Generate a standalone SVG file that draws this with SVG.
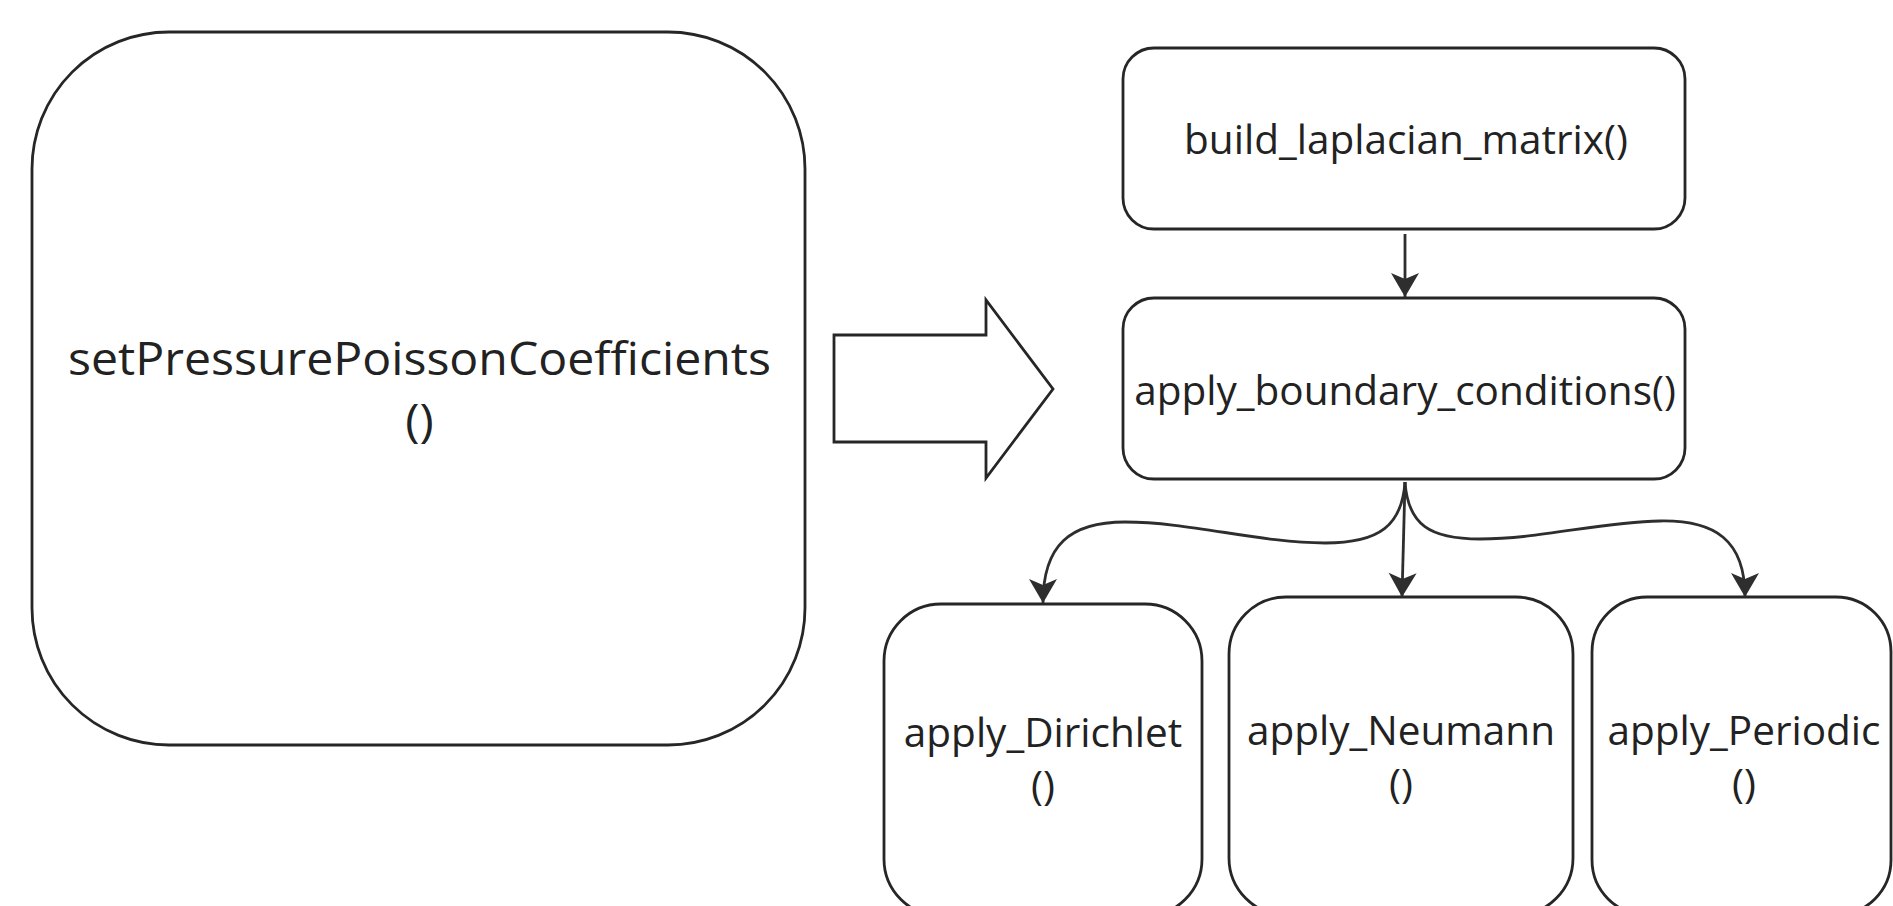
<svg xmlns="http://www.w3.org/2000/svg" width="1893" height="906" viewBox="0 0 1893 906">
  <style>
    .box { fill: #ffffff; stroke: #262626; stroke-width: 2.8; }
    .label { font-family: "Open Sans", "Noto Sans", "Liberation Sans", sans-serif; font-size: 40.5px; fill: #222222; text-anchor: middle; }
    .label.big { font-size: 46px; }
    .edge { fill: none; stroke: #2e2e2e; stroke-width: 2.8; stroke-linecap: butt; }
  </style>
  <defs>
    <marker id="arrowhead" markerUnits="userSpaceOnUse" markerWidth="32" markerHeight="32" viewBox="-27 -16 29 32" refX="0" refY="0" orient="auto">
      <path d="M0,0 L-24,-14 L-18,0 L-24,14 Z" fill="#2e2e2e"/>
    </marker>
  </defs>
  <rect width="1893" height="906" fill="#ffffff"/>

  <!-- main routine -->
  <g id="node-setPressurePoissonCoefficients">
    <rect class="box" x="32" y="32" width="773" height="713" rx="137" ry="137"/>
    <g transform="translate(419.5,0) scale(1.048,1)">
      <text class="label big" x="0" y="375">setPressurePoissonCoefficients</text>
      <text class="label big" x="0" y="437">()</text>
    </g>
  </g>

  <!-- block arrow pointing to the call chain -->
  <g id="node-block-arrow">
    <polygon class="box" points="834,335 986,335 986,300 1053,389 986,478 986,442 834,442"/>
  </g>

  <g id="node-build_laplacian_matrix">
    <rect class="box" x="1123" y="48" width="562" height="181" rx="31" ry="31"/>
    <text class="label" x="1406" y="154">build_laplacian_matrix()</text>
  </g>

  <g id="node-apply_boundary_conditions">
    <rect class="box" x="1123" y="298" width="562" height="181" rx="31" ry="31"/>
    <text class="label" x="1405" y="405">apply_boundary_conditions()</text>
  </g>

  <g id="node-apply_Dirichlet">
    <rect class="box" x="884" y="604" width="318" height="312" rx="57" ry="57"/>
    <text class="label" x="1043" y="747">apply_Dirichlet</text>
    <text class="label" x="1043" y="800">()</text>
  </g>

  <g id="node-apply_Neumann">
    <rect class="box" x="1229" y="597" width="344" height="318" rx="57" ry="57"/>
    <text class="label" x="1401" y="745">apply_Neumann</text>
    <text class="label" x="1401" y="798">()</text>
  </g>

  <g id="node-apply_Periodic">
    <rect class="box" x="1592" y="597" width="299" height="318" rx="55" ry="55"/>
    <text class="label" x="1744" y="745">apply_Periodic</text>
    <text class="label" x="1744" y="798">()</text>
  </g>

  <!-- connectors -->
  <g id="connectors">
    <path class="edge" d="M1405,234 L1405,297" marker-end="url(#arrowhead)"/>
    <path class="edge" d="M1405,482 C1402,525 1380,543 1325,543 C1260,543 1190,522 1125,522 C1070,522 1043,545 1043,603" marker-end="url(#arrowhead)"/>
    <path class="edge" d="M1405,482 L1402,597" marker-end="url(#arrowhead)"/>
    <path class="edge" d="M1405,482 C1408,525 1430,539 1480,539 C1540,539 1600,522 1660,521 C1715,520 1745,540 1745,597" marker-end="url(#arrowhead)"/>
  </g>
</svg>
